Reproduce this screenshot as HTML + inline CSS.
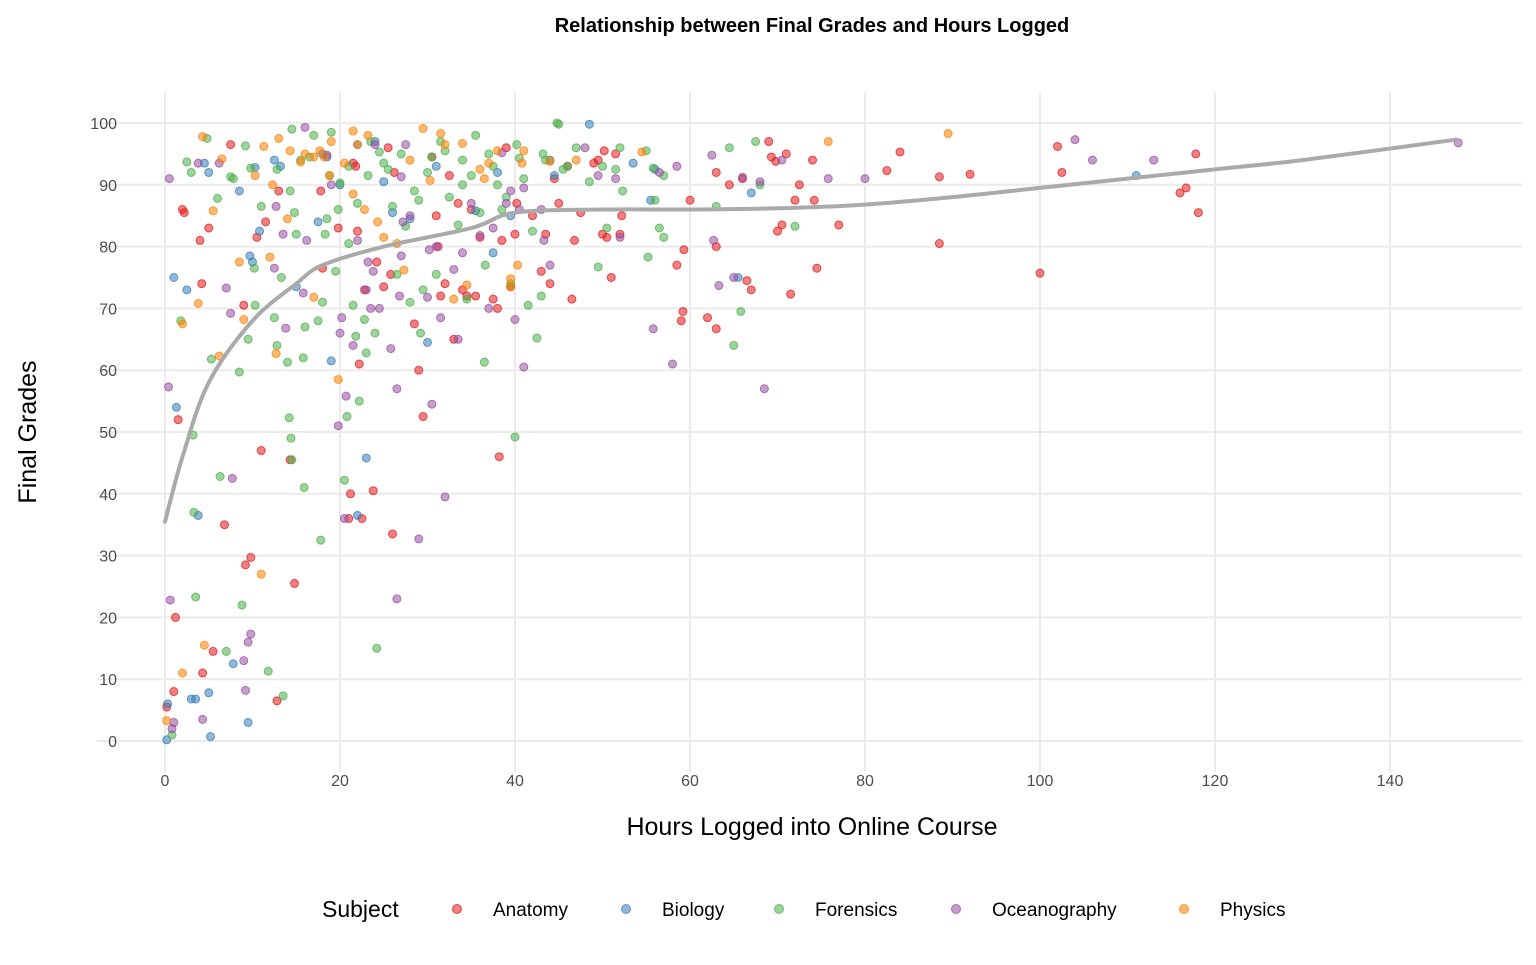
<!DOCTYPE html>
<html><head><meta charset="utf-8"><style>
html,body{margin:0;padding:0;background:#fff;}
svg text{font-family:"Liberation Sans",Arial,sans-serif;}
</style></head><body>
<svg id="chart" width="1536" height="960" xmlns="http://www.w3.org/2000/svg">
<g id="grid"></g>
<g id="points"></g>
<g id="trend"></g>
<g id="axes"></g>
<text x="812" y="32" text-anchor="middle" font-size="20" font-weight="bold" fill="#000">Relationship between Final Grades and Hours Logged</text>
<text x="812" y="835" text-anchor="middle" font-size="25" fill="#000">Hours Logged into Online Course</text>
<text transform="translate(36,432) rotate(-90)" text-anchor="middle" font-size="25" fill="#000">Final Grades</text>
<g id="legend"></g>
</svg>
<script>
const xTicks=[0,20,40,60,80,100,120,140];
const yTicks=[0,10,20,30,40,50,60,70,80,90,100];
const subjects=["Anatomy","Biology","Forensics","Oceanography","Physics"];
const colors=["#E41A1C","#377EB8","#4DAF4A","#984EA3","#FF7F00"];
const anatomy=[[0.2,5.5],[1,8],[1.2,20],[1.5,52],[2,86],[2.2,85.5],[4,81],[4.2,74],[4.3,11],[5,83],[5.5,14.5],[6.8,35],[7.5,96.5],[9,70.5],[9.2,28.5],[9.8,29.7],[10.5,81.5],[11,47],[11.5,84],[12.8,6.5],[13,89],[14.3,45.5],[14.8,25.5],[17.8,89],[18,76.5],[19.8,83],[21,36],[21.2,40],[21.5,93.5],[21.8,93],[22,82.5],[22.2,61],[22.5,36],[22.8,73],[23.8,40.5],[24.2,77.5],[25,73.5],[25.5,96],[25.8,75.5],[26,33.5],[26.2,92],[28.5,67.5],[29,60],[29.5,52.5],[30.5,94.5],[31,85],[31.2,80],[31.5,72],[32,74],[32.5,91.5],[33,65],[33.5,87],[34,73],[34.5,72],[35,86],[35.5,72],[36,81.5],[37.5,71.5],[38,70],[38.2,46],[38.5,81],[39,96],[39.5,73.5],[40,82],[40.2,87],[42,85],[43,76],[43.5,82],[44,74],[44.5,91],[45,87],[46,93],[46.5,71.5],[46.8,81],[47.5,85.5],[49,93.5],[49.5,94],[50,82],[50.2,95.5],[50.5,81.5],[51,75],[51.5,95],[52,82],[52.2,85],[58.5,77],[59,68],[59.2,69.5],[59.3,79.5],[60,87.5],[62,68.5],[63,66.7],[63,80],[63,92],[64.5,90],[66,91],[66.5,74.5],[67,73],[69,97],[69.3,94.5],[69.8,93.8],[70,82.5],[70.5,83.5],[71,95],[71.5,72.3],[72,87.5],[72.5,90],[74,94],[74.2,87.5],[74.5,76.5],[77,83.5],[82.5,92.3],[84,95.3],[88.5,80.5],[88.5,91.3],[92,91.7],[100,75.7],[102,96.2],[102.5,92],[116,88.7],[116.7,89.5],[117.8,95],[118.1,85.5]];
const biology=[[0.2,0.2],[0.3,6],[1,75],[1.3,54],[2.5,73],[3,6.8],[3.5,6.8],[3.8,36.5],[4.5,93.5],[5,92],[5,7.8],[5.2,0.7],[7.8,12.5],[8.5,89],[9.5,3],[9.7,78.5],[10,77.5],[10.3,92.8],[10.8,82.5],[12.5,94],[15,73.5],[17.5,84],[18,95],[18.5,94.5],[19,61.5],[22,96.5],[22,36.5],[23,45.8],[24,97],[25,90.5],[26,85.5],[28,84.5],[30,64.5],[31,93],[37.5,79],[38,92],[39.5,85],[44,94],[44.5,91.5],[48.5,99.8],[53.5,93.5],[55.5,87.5],[56,92.5],[65.5,75],[67,88.7],[111,91.5],[13.2,93],[20,90],[35.5,85.8]];
const forensics=[[0.8,1],[1.8,68],[2.5,93.7],[3,92],[3.2,49.5],[3.3,37],[3.5,23.3],[4.8,97.5],[5.3,61.8],[6,87.8],[6.3,42.8],[7,14.5],[7.8,91],[8.5,59.7],[8.8,22],[9.2,96.3],[9.5,65],[9.8,92.7],[10.2,76.5],[10.3,70.5],[11,86.5],[11.8,11.3],[12.5,68.5],[12.8,92.5],[13.3,75],[13.5,7.3],[14,61.3],[14.2,52.3],[14.3,89],[14.4,49],[14.5,45.5],[14.5,99],[14.8,85.5],[15,82],[15.5,94],[15.8,62],[15.9,41],[16,67],[16.5,94.5],[17,98],[17.5,68],[17.8,32.5],[18,71],[18.3,82],[18.5,84.5],[18.8,91.5],[19,98.5],[19.5,76],[19.8,86],[20,90.3],[20.5,42.2],[20.8,52.5],[21,80.5],[21.5,70.5],[21.8,65.5],[22,87],[22.2,55],[22.8,68.2],[23,62.8],[23.2,91.5],[23.5,97],[24,66],[24.2,15],[24.5,95.3],[25,93.5],[25.5,92.5],[26,86.5],[26.5,75.5],[27,95],[27.5,83.3],[28,71],[28.5,89],[29,87.5],[29.2,66],[29.5,73],[30,92],[30.5,94.5],[31,75.5],[31.5,97],[32,95.5],[32.5,88],[33.5,83.5],[34,90],[34.5,71.5],[35,91.5],[35.5,98],[36,85.5],[36.5,61.3],[36.6,77],[37,95],[37.5,93],[38,90],[38.5,86],[39,88],[39.5,74],[40,49.2],[40.2,96.5],[41,91],[41.5,70.5],[42,82.5],[42.5,65.2],[43,72],[43.2,95],[43.5,94],[44.8,100],[45,99.8],[46,93],[47,96],[48.5,90.5],[49.5,76.7],[50,93],[50.5,83],[51.5,92.5],[52,96],[52.3,89],[55,95.5],[55.2,78.3],[55.8,92.7],[56,87.5],[56.5,83],[57,81.5],[57,91.5],[63,86.5],[64.5,96],[65,64],[65.8,69.5],[67.5,97],[68,90],[72,83.3],[7.5,91.3],[12.8,64],[21,93],[34,94],[40.5,94.3],[45.5,92.5]];
const oceanography=[[0.4,57.3],[0.5,91],[0.6,22.8],[0.8,2],[1,3],[3.8,93.5],[4.3,3.5],[6.2,93.5],[7,73.3],[7.5,69.2],[7.7,42.5],[9,13],[9.2,8.2],[9.5,16],[9.8,17.3],[12.5,76.5],[12.7,86.5],[13.5,82],[13.8,66.8],[15.8,72.5],[16,99.3],[16.2,81],[18.5,94.8],[19,90],[19.8,51],[20,66],[20.2,68.5],[20.5,36],[20.7,55.8],[21.5,64],[22,81],[23,73],[23.2,77.5],[23.5,70],[23.8,76],[24,96.5],[24.5,70],[25.8,63.5],[26.5,57],[26.5,23],[26.8,72],[27,78.5],[27.2,84],[27.5,96.5],[28,85],[29,32.7],[30,71.8],[30.2,79.5],[30.5,54.5],[31,80],[31.5,68.5],[32,39.5],[33,76.3],[33.5,65],[34,79],[35,87],[37,70],[37.5,83],[38.5,95.2],[39,87],[39.5,89],[40,68.2],[40.5,86],[41,60.5],[41,89.5],[43,86],[43.3,81],[44,77],[48,96],[49.5,91.5],[51.5,91],[52,81.5],[55.8,66.7],[56.5,92],[58,61],[58.5,93],[62.5,94.8],[62.7,81],[63.3,73.7],[65,75],[66,91.2],[68,90.5],[68.5,57],[70.5,94],[75.8,91],[80,91],[104,97.3],[106,94],[113,94],[147.8,96.8],[27,91.3],[36,81.8]];
const physics=[[0.2,3.3],[2,11],[2,67.5],[3.8,70.8],[4.3,97.8],[4.5,15.5],[5.5,85.8],[6.2,62.3],[6.5,94.2],[8.5,77.5],[9,68.2],[10.3,91.5],[11,27],[11.3,96.2],[12,78.3],[12.3,90],[12.7,62.7],[13,97.5],[14,84.5],[14.3,95.5],[15.5,93.7],[16,95],[17,71.8],[17,94.5],[17.7,95.5],[18.2,94.5],[19,97],[19.8,58.5],[20.5,93.5],[21.5,98.7],[21.5,88.5],[22,96.5],[22.8,86],[23.2,98],[24.3,84],[25,81.5],[26.5,80.5],[27.3,76.2],[28,94],[29.5,99.1],[30.3,90.7],[31.5,98.3],[32,96.5],[33,71.5],[34,96.7],[34.5,73.8],[36,92.5],[36.5,91],[37,93.5],[39.5,74.8],[39.5,73.5],[40.3,77],[40.8,93.5],[41,95.5],[44,93.8],[47,94],[54.5,95.3],[75.8,97],[89.5,98.3],[38,95.5],[18.8,91.5]];
const trendX=[0,2,5,10,15,18,25,35,40,50,60,70,80,90,100,110,120,130,147.5];
const trendY=[35.5,46,58,68,74,77,80,83,85.5,86,86,86.2,86.8,88,89.5,91,92.5,94,97.3];

const NS="http://www.w3.org/2000/svg";
const sx=v=>165+v*8.75;
const sy=v=>741-v*6.18;
function mk(tag,attrs,parent){const e=document.createElementNS(NS,tag);for(const k in attrs)e.setAttribute(k,attrs[k]);parent.appendChild(e);return e;}
const grid=document.getElementById('grid'),axes=document.getElementById('axes');
yTicks.forEach(t=>{
  const l=mk('line',{x1:97,x2:1522,y1:sy(t),y2:sy(t),stroke:'#ebebeb','stroke-width':2},grid);
  
  
  const tx=mk('text',{x:117,y:sy(t)+6,'text-anchor':'end','font-size':16,fill:'#4d4d4d'},axes);
  tx.textContent=t;
  
  
});
xTicks.forEach(t=>{
  const l=mk('line',{x1:sx(t),x2:sx(t),y1:92,y2:772,stroke:'#ebebeb','stroke-width':2},grid);
  
  
  const tx=mk('text',{x:sx(t),y:786,'text-anchor':'middle','font-size':16,fill:'#4d4d4d'},axes);
  tx.textContent=t;
  
  
});
const pts=document.getElementById('points');
[anatomy,biology,forensics,oceanography,physics].forEach((arr,i)=>{
  arr.forEach(p=>{
    const c=mk('circle',{cx:sx(p[0]),cy:sy(p[1]),r:4,fill:colors[i],'fill-opacity':0.55,stroke:colors[i],'stroke-opacity':0.75,'stroke-width':1},pts);
    
    
  });
});
const P=trendX.map((x,i)=>[sx(x),sy(trendY[i])]);
let d='M'+P[0][0]+','+P[0][1];
for(let i=0;i<P.length-1;i++){
  const p0=P[Math.max(0,i-1)],p1=P[i],p2=P[i+1],p3=P[Math.min(P.length-1,i+2)];
  const c1=[p1[0]+(p2[0]-p0[0])/6,p1[1]+(p2[1]-p0[1])/6];
  const c2=[p2[0]-(p3[0]-p1[0])/6,p2[1]-(p3[1]-p1[1])/6];
  d+='C'+c1[0]+','+c1[1]+' '+c2[0]+','+c2[1]+' '+p2[0]+','+p2[1];
}
const tp=mk('path',{d:d,fill:'none',stroke:'#aaaaaa','stroke-width':4,'stroke-linejoin':'round','stroke-linecap':'round'},document.getElementById('trend'));


const lg=document.getElementById('legend');
const lt=mk('text',{x:322,y:917,'font-size':23,fill:'#000'},lg);
lt.textContent='Subject';


const lx=[457,626,779,956,1184];
subjects.forEach((s,i)=>{
  const c=mk('circle',{cx:lx[i],cy:909,r:4.5,fill:colors[i],'fill-opacity':0.55,stroke:colors[i],'stroke-opacity':0.75,'stroke-width':1},lg);
  
  
  const t=mk('text',{x:lx[i]+36,y:916,'font-size':19,fill:'#000'},lg);
  t.textContent=s;
  
  
});
</script>
</body></html>
